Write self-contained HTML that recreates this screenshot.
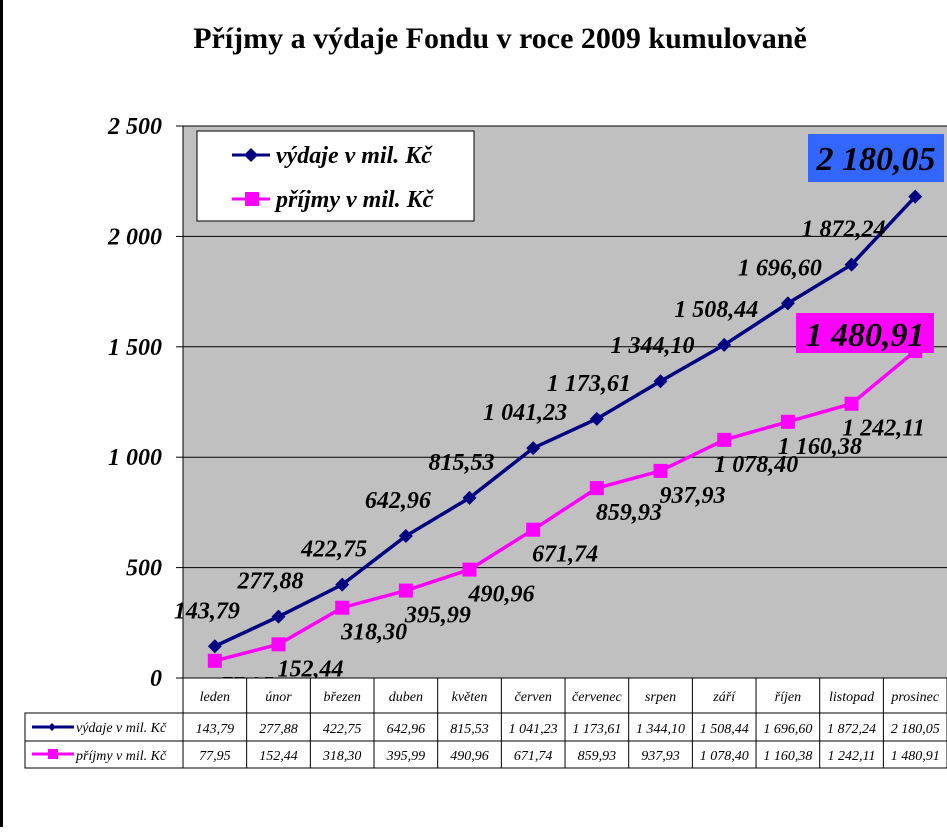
<!DOCTYPE html>
<html><head><meta charset="utf-8"><style>
body{margin:0;background:#fff;}
svg text{font-family:"Liberation Serif",serif;}
</style></head><body>
<svg width="947" height="827" xmlns="http://www.w3.org/2000/svg">
<rect x="0" y="0" width="947" height="827" fill="#fff"/>
<rect x="0" y="0" width="3" height="827" fill="#000"/>
<text x="500" y="48" text-anchor="middle" font-size="30" font-weight="bold">Příjmy a výdaje Fondu v roce 2009 kumulovaně</text>
<rect x="183" y="126" width="764" height="552" fill="#c0c0c0"/>
<g id="grid"></g>
<g id="series"></g>
<g id="labels"></g>
<g>
<rect x="197" y="131" width="277" height="90" fill="#fff" stroke="#000" stroke-width="1"/>
<line x1="232" y1="155" x2="270" y2="155" stroke="#000080" stroke-width="3"/>
<polygon points="251,148 258,155 251,162 244,155" fill="#000080"/>
<text x="276" y="163" font-size="24" font-weight="bold" font-style="italic">výdaje v mil. Kč</text>
<line x1="232" y1="199" x2="270" y2="199" stroke="#ff00ff" stroke-width="3"/>
<rect x="245" y="192" width="14" height="14" fill="#ff00ff"/>
<text x="276" y="207" font-size="24" font-weight="bold" font-style="italic">příjmy v mil. Kč</text>
</g>
<g id="table"></g>
<script>
const categories=["leden","únor","březen","duben","květen","červen","červenec","srpen","září","říjen","listopad","prosinec"];
const vydaje=[143.79,277.88,422.75,642.96,815.53,1041.23,1173.61,1344.10,1508.44,1696.60,1872.24,2180.05];
const prijmy=[77.95,152.44,318.30,395.99,490.96,671.74,859.93,937.93,1078.40,1160.38,1242.11,1480.91];
const yTicks=[0,500,1000,1500,2000,2500];
const NS="http://www.w3.org/2000/svg";
const x0=183,colW=63.67,yBase=678,yTop=126,yMax=2500;
function xs(i){return x0+colW*(i+0.5);}
function ys(v){return yBase-(v/yMax)*(yBase-yTop);}
function fmt(v){let s=v.toFixed(2).replace('.',',');let [a,b]=s.split(',');a=a.replace(/\B(?=(\d{3})+(?!\d))/g,' ');return a+','+b;}
function mk(t,a,p){const e=document.createElementNS(NS,t);for(const k in a)e.setAttribute(k,a[k]);(p||document.querySelector('svg')).appendChild(e);return e;}
const grid=document.getElementById('grid');
yTicks.forEach(t=>{
 const y=ys(t);
 if(t>0){const l=mk('line',{x1:x0,y1:y,x2:947,y2:y,stroke:'#000','stroke-width':1},grid);
 
 }
 const tk=mk('line',{x1:176,y1:y,x2:x0,y2:y,stroke:'#000'},grid);
 const tx=mk('text',{x:162,y:y+8,'text-anchor':'end','font-size':24,'font-weight':'bold','font-style':'italic'},grid);
 tx.textContent=t===0?'0':fmt(t).replace(',00','');
 
 
});
mk('line',{x1:x0,y1:yTop,x2:x0,y2:yBase,stroke:'#000'},grid);
mk('line',{x1:x0,y1:yBase,x2:947,y2:yBase,stroke:'#000'},grid);
const sg=document.getElementById('series');
function line(vals,col,name){
 const p=mk('polyline',{points:vals.map((v,i)=>xs(i)+','+ys(v)).join(' '),fill:'none',stroke:col,'stroke-width':3.5},sg);
 
 
}
line(vydaje,'#000080','vydaje');line(prijmy,'#ff00ff','prijmy');
vydaje.forEach((v,i)=>{const x=xs(i),y=ys(v);
 const d=mk('polygon',{points:`${x},${y-7} ${x+7},${y} ${x},${y+7} ${x-7},${y}`,fill:'#000080'},sg);
 
 });
prijmy.forEach((v,i)=>{const x=xs(i),y=ys(v);
 const r=mk('rect',{x:x-7,y:y-7,width:14,height:14,fill:'#ff00ff'},sg);
 
 });
const lg=document.getElementById('labels');
vydaje.forEach((v,i)=>{
 const last=i===vydaje.length-1;
 const x=xs(i),y=ys(v);
 if(last){mk('rect',{x:808,y:134,width:136,height:48,fill:'#3366ff'},lg);
  const t=mk('text',{x:876,y:170,'text-anchor':'middle','font-size':34,'font-weight':'bold','font-style':'italic'},lg);t.textContent=fmt(v);
  
  return;}
 const t=mk('text',{x:x-8,y:y-28,'text-anchor':'middle','font-size':24,'font-weight':'bold','font-style':'italic'},lg);
 t.textContent=fmt(v);
 
 
});
prijmy.forEach((v,i)=>{
 const last=i===prijmy.length-1;
 const x=xs(i),y=ys(v);
 if(last){mk('rect',{x:796,y:313,width:138,height:40,fill:'#ff00ff'},lg);
  const t=mk('text',{x:865,y:346,'text-anchor':'middle','font-size':34,'font-weight':'bold','font-style':'italic'},lg);t.textContent=fmt(v);
  
  return;}
 const t=mk('text',{x:x+32,y:y+32,'text-anchor':'middle','font-size':24,'font-weight':'bold','font-style':'italic'},lg);
 t.textContent=fmt(v);
 
 
});
const tb=document.getElementById('table');
const r0=678,r1=713,r2=741,r3=768;
mk('rect',{x:x0,y:r0,width:764,height:r3-r0,fill:'#fff',stroke:'#000'},tb);
mk('rect',{x:25,y:r1,width:x0-25,height:r3-r1,fill:'#fff',stroke:'#000'},tb);
mk('line',{x1:25,y1:r2,x2:947,y2:r2,stroke:'#000'},tb);
mk('line',{x1:x0,y1:r1,x2:947,y2:r1,stroke:'#000'},tb);
mk('line',{x1:25,y1:r3,x2:947,y2:r3,stroke:'#000'},tb);
for(let i=1;i<12;i++)mk('line',{x1:x0+colW*i,y1:r0,x2:x0+colW*i,y2:r3,stroke:'#000'},tb);
categories.forEach((c,i)=>{
 const t=mk('text',{x:xs(i),y:r0+23,'text-anchor':'middle','font-size':14,'font-style':'italic'},tb);t.textContent=c;
 
 
 const a=mk('text',{x:xs(i),y:r1+20,'text-anchor':'middle','font-size':14,'font-style':'italic'},tb);a.textContent=fmt(vydaje[i]);
 
 
 const b=mk('text',{x:xs(i),y:r2+19,'text-anchor':'middle','font-size':14,'font-style':'italic'},tb);b.textContent=fmt(prijmy[i]);
 
 
 
});
mk('line',{x1:32,y1:r1+14,x2:74,y2:r1+14,stroke:'#000080','stroke-width':3},tb);
mk('polygon',{points:`52,${r1+10} 56,${r1+14} 52,${r1+18} 48,${r1+14}`,fill:'#000080'},tb);
const l1=mk('text',{x:76,y:r1+19,'font-size':14,'font-style':'italic'},tb);l1.textContent='výdaje v mil. Kč';


mk('line',{x1:32,y1:r2+13,x2:74,y2:r2+13,stroke:'#ff00ff','stroke-width':3},tb);
mk('rect',{x:48,y:r2+8,width:10,height:10,fill:'#ff00ff'},tb);
const l2=mk('text',{x:76,y:r2+19,'font-size':14,'font-style':'italic'},tb);l2.textContent='příjmy v mil. Kč';


</script>
</svg>
</body></html>
